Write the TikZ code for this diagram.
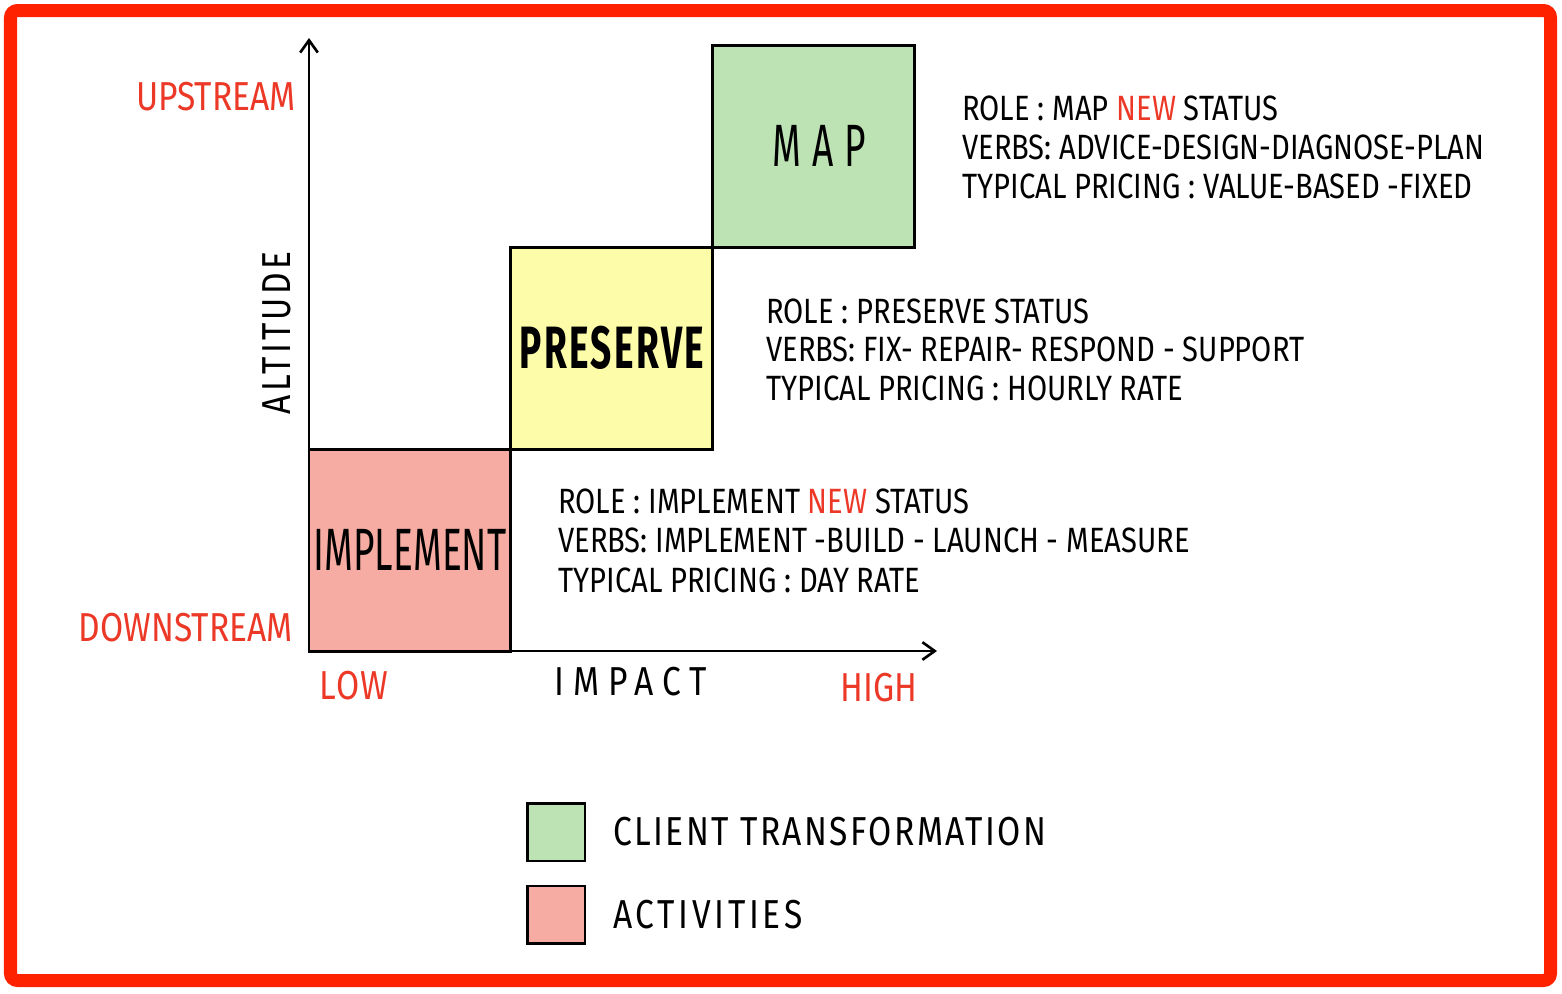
\documentclass[tikz,border=0pt]{standalone}
\usepackage{fontspec}
\setmainfont{Fira Sans}
\newfontfamily\hand[FakeStretch=0.83]{Fira Sans}
\newfontfamily\handbig[FakeStretch=0.62]{Fira Sans}
\usetikzlibrary{arrows.meta, positioning}
\definecolor{framered}{RGB}{255,34,0}
\definecolor{labelred}{RGB}{236,56,38}
\definecolor{mapgreen}{RGB}{189,226,180}
\definecolor{presyellow}{RGB}{253,252,168}
\definecolor{implsalmon}{RGB}{246,172,162}
\tikzset{
  quad/.style={
    draw,
    rectangle,
    line width=1.7pt,
    minimum width=4.04cm,
    minimum height=4.04cm,
    inner sep=0pt,
    outer sep=0pt,
    align=center,
    font=\handbig\fontsize{34}{34}\selectfont,
  },
  info/.style={
    anchor=base west,
    inner sep=0pt,
    font=\hand\fontsize{20}{22}\selectfont,
  },
  axislabel/.style={
    inner sep=0pt,
    font=\hand\fontsize{23}{25}\selectfont,
  },
  legendbox/.style={
    draw,
    rectangle,
    line width=1.7pt,
    minimum width=1.16cm,
    minimum height=1.16cm,
    outer sep=0pt,
  },
  axis/.style={
    -{Straight Barb[length=7pt,width=10pt,line width=1.5pt]},
    line width=1.6pt
  }
}
\newcommand{\new}{\textcolor{labelred}{NEW}}
\newcommand{\spaced}[1]{\addfontfeature{LetterSpace=#1}}
\begin{document}
\begin{tikzpicture}[x=0.02cm, y=-0.02cm]
  % cadre
  \useasboundingbox (0,0) rectangle (1562,994);
  \draw[framered, line width=7.4pt, rounded corners=4pt] (10.5,10.5) rectangle (1550.5,980.5);

  % Carres
  \node[quad, fill=implsalmon, anchor=south west] (implement) at (309,651) {IMPLEMENT};
  \node[quad, fill=presyellow, anchor=south west] (preserve) at (implement.north east) {\bfseries\spaced{4}PRESERVE};
  \node[quad, fill=mapgreen, anchor=south west] (map) at (preserve.north east) {\hspace{6pt}\spaced{18}MAP};

  % Axes
  \coordinate (origin) at (309,651);
  \coordinate (ytip) at (309,38);
  \coordinate (xtip) at (937,651);
  \draw[axis] (origin) -- (ytip);
  \draw[axis] (origin) -- (xtip);

  % Etiquettes des axes
  \node[axislabel, text=labelred, anchor=east] (up) at (296,97) {UPSTREAM};
  \node[axislabel, text=labelred, anchor=east] (down) at (293,628) {DOWNSTREAM};
  \node[axislabel, rotate=90] (alt) at (277,333) {\spaced{8}ALTITUDE};
  \node[axislabel, text=labelred, anchor=west] (low) at (319,686) {\spaced{4}LOW};
  \node[axislabel, anchor=west] (impact) at (554,682) {\spaced{22}IMPACT};
  \node[axislabel, text=labelred, anchor=east] (high) at (918,688) {HIGH};

  % Descriptions
  \node[info] (maprole) at (962,120) {ROLE : MAP \new{} STATUS};
  \node[info] (mapverbs) at (962,159) {VERBS: ADVICE-DESIGN-DIAGNOSE-PLAN};
  \node[info] (mapprice) at (962,198) {TYPICAL PRICING : VALUE-BASED -FIXED};

  \node[info] (presrole) at (766,323) {ROLE : PRESERVE STATUS};
  \node[info] (presverbs) at (766,361) {VERBS: FIX- REPAIR- RESPOND - SUPPORT};
  \node[info] (presprice) at (766,400) {TYPICAL PRICING : HOURLY RATE};

  \node[info] (implrole) at (558,513) {ROLE : IMPLEMENT \new{} STATUS};
  \node[info] (implverbs) at (558,552) {VERBS: IMPLEMENT -BUILD - LAUNCH - MEASURE};
  \node[info] (implprice) at (558,592) {TYPICAL PRICING : DAY RATE};

  % Legende
  \node[legendbox, fill=mapgreen] (leggreen) at (556,832) {};
  \node[legendbox, fill=implsalmon, below=0.5cm of leggreen] (legred) {};
  \node[axislabel, anchor=west, right=0.56cm of leggreen] (legtrans) {\spaced{6}CLIENT TRANSFORMATION};
  \node[axislabel, anchor=west, right=0.56cm of legred] (legact) {\spaced{9}ACTIVITIES};
\end{tikzpicture}
\end{document}
